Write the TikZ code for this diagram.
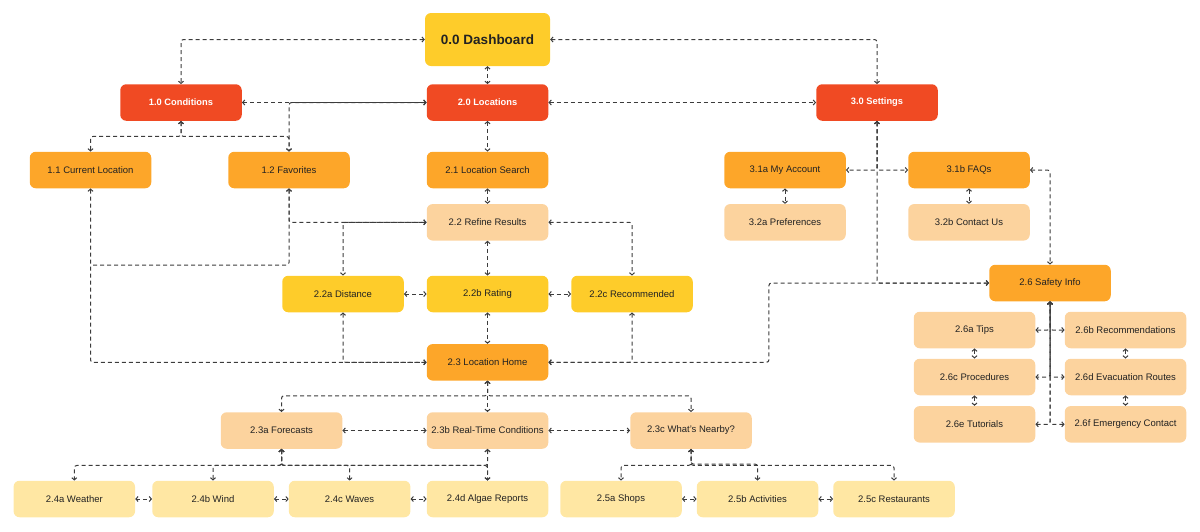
\documentclass[tikz,border=0pt]{standalone}
\usepackage{fontspec}
\setmainfont{Liberation Sans}
\usetikzlibrary{arrows.meta}

\definecolor{redbox}{HTML}{F04A23}
\definecolor{orangebox}{HTML}{FDA629}
\definecolor{peachbox}{HTML}{FCD39E}
\definecolor{yellowbox}{HTML}{FECC2A}
\definecolor{leafbox}{HTML}{FFE7A3}
\definecolor{textdark}{HTML}{222222}
\definecolor{linegray}{HTML}{3C3C3C}

\begin{document}
\begin{tikzpicture}[x=1pt,y=-1pt,
    box/.style={rectangle,rounded corners=6pt,inner sep=0pt,minimum width=121.5pt,minimum height=36.5pt,
        text=textdark,font=\fontsize{9.5}{11}\selectfont},
    top/.style={box,fill=redbox,text=white,font=\fontsize{9.3}{11}\selectfont\bfseries},
    mid/.style={box,fill=orangebox},
    sub/.style={box,fill=peachbox},
    pick/.style={box,fill=yellowbox},
    leaf/.style={box,fill=leafbox},
    link/.style={draw=linegray,line width=1pt,dash pattern=on 4pt off 3pt,rounded corners=2.5pt,
        >={Straight Barb[length=2.2pt,width=5pt]},<->}]
    \useasboundingbox (0,0) rectangle (1200,531);

    % levels 0 and 1
    \node[pick,minimum width=125pt,minimum height=53pt,font=\fontsize{13.5}{16}\selectfont\bfseries] (dash) at (487.5,39.5) {0.0 Dashboard};
    \node[top] (cond) at (181,102.5) {1.0 Conditions};
    \node[top] (loc) at (487.5,102.5) {2.0 Locations};
    \node[top] (sett) at (877,102.5) {3.0 Settings};

    \node[mid] (curloc) at (90.5,170) {1.1 Current Location};
    \node[mid] (fav) at (289,170) {1.2 Favorites};
    \node[mid] (search) at (487.5,170) {2.1 Location Search};
    \node[mid] (myacc) at (785,170) {3.1a My Account};
    \node[mid] (faqs) at (969,170) {3.1b FAQs};

    \node[sub] (refine) at (487.5,222.3) {2.2 Refine Results};
    \node[sub] (pref) at (785,222.3) {3.2a Preferences};
    \node[sub] (contact) at (969,222.3) {3.2b Contact Us};

    \node[pick] (dist) at (343,294) {2.2a Distance};
    \node[pick] (rating) at (487.5,294) {2.2b Rating};
    \node[pick] (recom) at (632,294) {2.2c Recommended};
    \node[mid] (safety) at (1050,283) {2.6 Safety Info};

    \node[mid] (home) at (487.5,362.3) {2.3 Location Home};

    % safety grid
    \node[sub] (tips) at (974.5,330) {2.6a Tips};
    \node[sub] (recs) at (1125.5,330) {2.6b Recommendations};
    \node[sub] (proc) at (974.5,377) {2.6c Procedures};
    \node[sub] (evac) at (1125.5,377) {2.6d Evacuation Routes};
    \node[sub] (tut) at (974.5,424.3) {2.6e Tutorials};
    \node[sub] (emerg) at (1125.5,424.3) {2.6f Emergency Contact};

    \node[sub] (fcst) at (281.5,430.5) {2.3a Forecasts};
    \node[sub] (rtc) at (487.5,430.5) {2.3b Real-Time Conditions};
    \node[sub] (nearby) at (691,430.5) {2.3c What’s Nearby?};

    \node[leaf] (weather) at (74.3,499) {2.4a Weather};
    \node[leaf] (wind) at (213,499) {2.4b Wind};
    \node[leaf] (waves) at (349.6,499) {2.4c Waves};
    \node[leaf] (algae) at (487.5,499) {2.4d Algae Reports};
    \node[leaf] (shops) at (621,499) {2.5a Shops};
    \node[leaf] (activ) at (757.5,499) {2.5b Activities};
    \node[leaf] (rest) at (894,499) {2.5c Restaurants};

    \coordinate (favjoin) at (90.5,265);

    % top links
    \draw[link] (dash.west) -| (cond.north);
    \draw[link] (dash.east) -| (sett.north);
    \draw[link] (dash) -- (loc);
    \draw[link] (cond.east) -- (loc.west);
    \draw[link] (loc.east) -- (sett.west);
    \draw[link] (loc.west) -| (fav.north);
    \draw[link] (cond.south) -- ++(0,15.5) -| (curloc.north);
    \draw[link] (cond.south) -- ++(0,15.5) -| (fav.north);
    \draw[link] (loc) -- (search);
    \draw[link] (search) -- (refine);

    % locations branch
    \draw[link] (curloc.south) |- (home.west);
    \draw[link,<-] (fav.south) |- (favjoin);
    \draw[link] (fav.south) |- (refine.west);
    \draw[link] (refine.west) -| (dist.north);
    \draw[link] (refine.east) -| (recom.north);
    \draw[link] (refine) -- (rating);
    \draw[link] (dist) -- (rating);
    \draw[link] (rating) -- (recom);
    \draw[link] (rating) -- (home);
    \draw[link] (dist.south) |- (home.west);
    \draw[link] (recom.south) |- (home.east);
    \draw[link] (home.east) -- ++(220.5,0) |- (safety.west);

    % settings branch
    \draw[link] (sett.south) |- (myacc.east);
    \draw[link] (sett.south) |- (faqs.west);
    \draw[link] (safety.west) -| (sett.south);
    \draw[link] (myacc) -- (pref);
    \draw[link] (faqs) -- (contact);
    \draw[link] (faqs.east) -| (safety.north);

    % safety grid links
    \draw[link] (safety.south) |- (tips.east);
    \draw[link] (safety.south) |- (recs.west);
    \draw[link] (safety.south) |- (proc.east);
    \draw[link] (safety.south) |- (evac.west);
    \draw[link] (tut.east) -| (safety.south);
    \draw[link] (emerg.west) -| (safety.south);
    \draw[link] (tips) -- (proc);
    \draw[link] (proc) -- (tut);
    \draw[link] (recs) -- (evac);
    \draw[link] (evac) -- (emerg);

    % location home branch
    \draw[link] (home.south) -- ++(0,15) -| (fcst.north);
    \draw[link] (home.south) -- (rtc.north);
    \draw[link] (home.south) -- ++(0,15) -| (nearby.north);
    \draw[link] (fcst) -- (rtc);
    \draw[link] (rtc) -- (nearby);

    \draw[link] (fcst.south) -- ++(0,16.5) -| (weather.north);
    \draw[link] (fcst.south) -- ++(0,16.5) -| (wind.north);
    \draw[link] (fcst.south) -- ++(0,16.5) -| (waves.north);
    \draw[link] (fcst.south) -- ++(0,16.5) -| (algae.north);
    \draw[link] (rtc.south) -- (algae.north);
    \draw[link] (rtc.south) -- ++(0,16.5) -| (fcst.south);
    \draw[link] (weather) -- (wind);
    \draw[link] (wind) -- (waves);
    \draw[link] (waves) -- (algae);

    \draw[link] (nearby.south) -- ++(0,16.5) -| (shops.north);
    \draw[link] (activ.north) -- ++(0,-16.5) -| (nearby.south);
    \draw[link] (nearby.south) -- ++(0,16.5) -| (rest.north);
    \draw[link] (shops) -- (activ);
    \draw[link] (activ) -- (rest);
\end{tikzpicture}
\end{document}
